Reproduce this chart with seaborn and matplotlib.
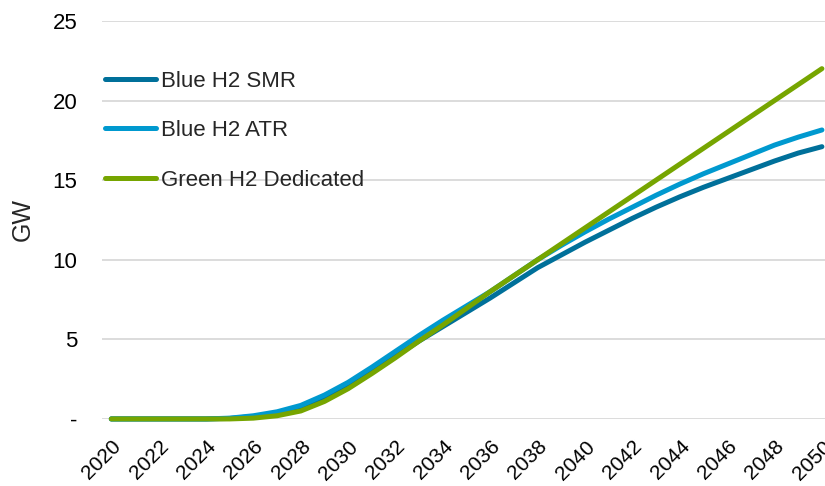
import matplotlib
matplotlib.use('Agg')
import numpy as np
import pandas as pd
import seaborn as sns
import matplotlib.pyplot as plt

# ---- data (GW) ----
years = list(range(2020, 2051))
blue_smr = [0, 0, 0, 0, 0, 0.03, 0.15, 0.35, 0.7, 1.3, 2.1, 3.0, 3.95, 4.9, 5.8, 6.7,
            7.6, 8.55, 9.5, 10.3, 11.1, 11.85, 12.6, 13.3, 13.95, 14.55, 15.1, 15.65, 16.2, 16.7, 17.1]
blue_atr = [0, 0, 0, 0, 0, 0.05, 0.2, 0.45, 0.85, 1.5, 2.3, 3.25, 4.25, 5.25, 6.2, 7.1,
            8.0, 9.0, 10.0, 10.9, 11.75, 12.55, 13.3, 14.05, 14.75, 15.4, 16.0, 16.6, 17.2, 17.7, 18.15]
green_ded = [0, 0, 0, 0, 0, 0, 0.05, 0.2, 0.5, 1.1, 1.9, 2.85, 3.85, 4.9, 5.9, 6.95,
             8.0, 9.0, 10.0, 11.0, 12.0, 13.0, 14.0, 15.0, 16.0, 17.0, 18.0, 19.0, 20.0, 21.0, 22.0]
series_names = ['Blue H2 SMR', 'Blue H2 ATR', 'Green H2 Dedicated']
colors = ['#00709a', '#0099cf', '#76a500']
x_ticks = list(range(2020, 2051, 2))
y_ticks = [0, 5, 10, 15, 20, 25]
y_ticklabels = ['-', '5', '10', '15', '20', '25']

df = pd.DataFrame({
    'year': years * 3,
    'GW': blue_smr + blue_atr + green_ded,
    'series': [series_names[0]] * len(years) + [series_names[1]] * len(years) + [series_names[2]] * len(years),
})

sns.set_style('white')
plt.rcParams['font.family'] = ['Liberation Sans', 'DejaVu Sans']

fig = plt.figure(figsize=(8.25, 4.86), dpi=100)
ax = fig.add_axes([0.124, 0.138, 0.876, 0.819])

sns.lineplot(data=df, x='year', y='GW', hue='series', hue_order=series_names,
             palette=colors, linewidth=3.6, ax=ax, legend=False, clip_on=False,
             solid_capstyle='round')

# legend as in the reference
handles = [plt.Line2D([], [], color=c, linewidth=3.6, solid_capstyle='round') for c in colors]
ax.legend(handles, series_names, loc='upper left', bbox_to_anchor=(0.004, 0.875),
          frameon=False, fontsize=16, handlelength=2.3, handletextpad=0.2,
          labelspacing=1.28, borderpad=0, borderaxespad=0)

ax.set_xlim(2019.62, 2050.13)
ax.set_ylim(0, 25)
ax.set_xticks(x_ticks)
ax.set_xticklabels([str(t) for t in x_ticks], rotation=45, ha='right',
                   rotation_mode='anchor', fontsize=15)
ax.set_yticks(y_ticks)
ax.set_yticklabels(y_ticklabels, fontsize=16)
ax.set_xlabel('')
ax.set_ylabel('GW', fontsize=18, labelpad=13)
ax.grid(axis='y', color='#d9d9d9', linewidth=1.3)
ax.set_axisbelow(True)
for s in ax.spines.values():
    s.set_visible(False)
ax.tick_params(axis='both', length=0, colors='black')
ax.tick_params(axis='x', pad=13)
ax.tick_params(axis='y', pad=18)

plt.savefig('out.png', dpi=100)
